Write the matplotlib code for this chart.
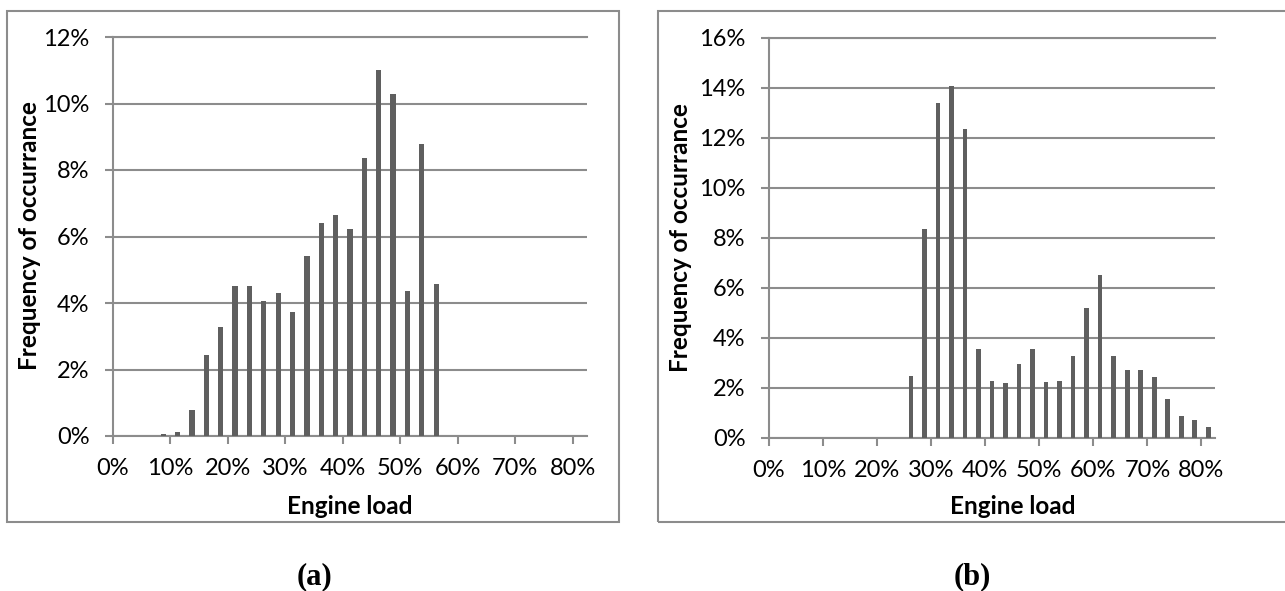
import matplotlib.pyplot as plt
from matplotlib.patches import Rectangle
from matplotlib.ticker import FuncFormatter
import numpy as np

# engine load bins, 2.5% wide, 0 .. 82.5%
load_bins = np.arange(33) * 2.5 + 1.25

freq_a = [0, 0, 0, 0.05, 0.11, 0.78, 2.44, 3.29, 4.50, 4.52, 4.06, 4.31, 3.73,
          5.41, 6.40, 6.64, 6.24, 8.37, 11.01, 10.30, 4.36, 8.78, 4.58,
          0, 0, 0, 0, 0, 0, 0, 0, 0, 0]
freq_b = [0, 0, 0, 0, 0, 0, 0, 0, 0, 0, 2.48, 8.35, 13.39, 14.07, 12.36, 3.56,
          2.29, 2.19, 2.96, 3.56, 2.24, 2.27, 3.27, 5.20, 6.53, 3.28, 2.72,
          2.73, 2.45, 1.56, 0.89, 0.71, 0.44]

x_ticks = [0, 10, 20, 30, 40, 50, 60, 70, 80]
y_ticks_a = [0, 2, 4, 6, 8, 10, 12]
y_ticks_b = [0, 2, 4, 6, 8, 10, 12, 14, 16]

W, H = 1285, 591
BAR = "#5f5f5f"
GRID = "#8c8c8c"
FONT = "Lato"

fig = plt.figure(figsize=(W / 100, H / 100), dpi=100)


def px_axes(x0, y0, x1, y1):
    # pixel box (top-left origin) -> figure fraction axes
    return fig.add_axes([x0 / W, 1 - y1 / H, (x1 - x0) / W, (y1 - y0) / H])


def px_box(x0, y0, x1, y1):
    fig.patches.append(Rectangle((x0 / W, 1 - y1 / H), (x1 - x0) / W, (y1 - y0) / H,
                                 transform=fig.transFigure, fill=False,
                                 edgecolor=GRID, lw=1.5))


def panel(ax, vals, yticks, width):
    ax.bar(load_bins, vals, width=width, color=BAR, zorder=3)
    ax.set_xlim(0, 82.5)
    ax.set_ylim(0, yticks[-1])
    ax.set_xticks(x_ticks)
    ax.set_yticks(yticks)
    pct = FuncFormatter(lambda v, _: f"{int(round(v))}%")
    ax.xaxis.set_major_formatter(pct)
    ax.yaxis.set_major_formatter(pct)
    ax.grid(axis="y", color=GRID, lw=1.5, zorder=0)
    for s in ["left", "bottom", "top"]:
        ax.spines[s].set_color(GRID)
        ax.spines[s].set_linewidth(1.5)
    ax.spines["right"].set_visible(False)
    ax.tick_params(axis="both", direction="out", color=GRID, width=1.5,
                   labelsize=17, labelcolor="black")
    ax.tick_params(axis="y", length=6, pad=11)
    ax.tick_params(axis="x", length=5.5, pad=10)
    for t in ax.get_xticklabels() + ax.get_yticklabels():
        t.set_fontfamily(FONT)


px_box(7, 11, 619, 522)
px_box(658, 11, 1300, 522)

ax_a = px_axes(113, 37, 587, 436)
panel(ax_a, freq_a, y_ticks_a, 0.93)
ax_b = px_axes(769, 38, 1215, 438)
panel(ax_b, freq_b, y_ticks_b, 0.87)

lab = dict(fontfamily=FONT, fontweight="bold", fontsize=17.5, ha="center", va="center")
fig.text(350 / W, 1 - 507 / H, "Engine load", **lab)
fig.text(1013 / W, 1 - 507 / H, "Engine load", **lab)
fig.text(30 / W, 1 - 236 / H, "Frequency of occurrance", rotation=90, **lab)
fig.text(681 / W, 1 - 238 / H, "Frequency of occurrance", rotation=90, **lab)

cap = dict(fontfamily="Liberation Serif", fontweight="bold", fontsize=22,
           ha="center", va="center")
fig.text(315 / W, 1 - 577 / H, "(a)", **cap)
fig.text(972 / W, 1 - 577 / H, "(b)", **cap)

fig.savefig("out.png", dpi=100)
